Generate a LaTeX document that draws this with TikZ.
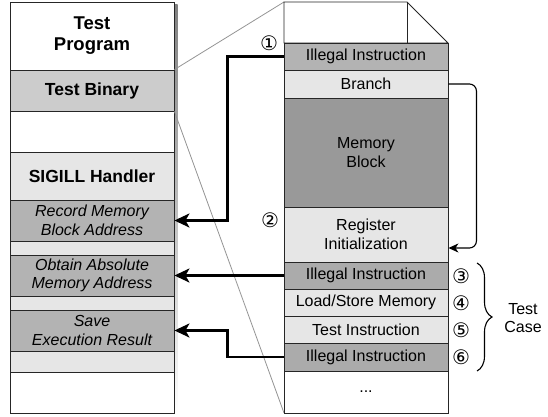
\documentclass[tikz,border=0pt]{standalone}
\usepackage{fontspec}
\setmainfont{Liberation Sans}
\newfontfamily\circfont{DejaVu Sans}
\usetikzlibrary{arrows.meta,decorations.pathreplacing,calc}

\definecolor{edge}{HTML}{262626}
\definecolor{fillA}{HTML}{CCCCCC}
\definecolor{fillB}{HTML}{B3B3B3}
\definecolor{fillC}{HTML}{E6E6E6}
\definecolor{fillD}{HTML}{999999}
\definecolor{fillE}{HTML}{ABABAB}
\definecolor{shade}{HTML}{CFCFCF}

\tikzset{
  cell/.style={draw=edge, line width=0.9pt, minimum width=164pt, inner sep=0pt,
    align=center, text=black, font=\fontsize{16}{18.5}\selectfont},
  boldcell/.style={cell, font=\fontsize{17.5}{21}\selectfont\bfseries},
  itcell/.style={cell, font=\fontsize{16}{18.5}\selectfont\itshape},
  zoomline/.style={draw=black!42, line width=0.8pt},
  bigarrow/.style={line width=2.4pt, black,
    -{Stealth[length=15pt, width=14pt, inset=4pt]}},
  looparrow/.style={line width=1.1pt, black, rounded corners=7pt,
    -{Stealth[length=10pt, width=9pt, inset=3pt]}},
  circ/.style={inner sep=0pt, font=\circfont\fontsize{20}{20}\selectfont},
  tcbrace/.style={decorate, line width=1.1pt,
    decoration={brace, amplitude=15pt, aspect=0.5}},
}

\begin{document}
\begin{tikzpicture}[x=1pt, y=-1pt]
\useasboundingbox (0,0) rectangle (548,417);

% soft shadow behind the program column
\fill[shade] (13,5) rectangle (177.5,416);

% program column
\node[boldcell, minimum height=68pt, fill=white, font=\fontsize{18.5}{21}\selectfont\bfseries] (prog) at (92,36) {Test\\Program};
\node[boldcell, minimum height=41pt, fill=fillA] (bin) at (92,90.5) {Test Binary};
\node[cell, minimum height=41pt, fill=white] (blank1) at (92,131.5) {};
\node[boldcell, minimum height=48pt, fill=fillC] (sig) at (92,176) {SIGILL Handler};
\node[itcell, minimum height=41pt, fill=fillB] (rec) at (92,220.5) {Record Memory\\Block Address};
\node[cell, minimum height=14pt, fill=fillC] (g1) at (92,248) {};
\node[itcell, minimum height=41pt, fill=fillB] (obt) at (92,275.5) {Obtain Absolute\\Memory Address};
\node[cell, minimum height=14pt, fill=fillC] (g2) at (92,303) {};
\node[itcell, minimum height=41pt, fill=fillB] (save) at (92,330.5) {Save\\Execution Result};
\node[cell, minimum height=21pt, fill=fillC] (g3) at (92,361.5) {};
\node[cell, minimum height=41pt, fill=white] (blank2) at (92,392.5) {};

% page corners of the binary view
\coordinate (ptl) at (284,2);
\coordinate (pfold) at (407,2);
\coordinate (pfr) at (448,43);
\coordinate (pfl) at (284,43);

% zoom guides from the binary to its expanded view
\draw[zoomline] (bin.north east) -- (ptl);
\draw[zoomline] (bin.south east) -- (284,413);

% expanded binary (dog-eared page)
\filldraw[fill=white, draw=edge, line width=0.9pt] (pfl) -- (ptl) -- (pfold) -- (pfr) -- cycle;
\draw[edge, line width=0.9pt] (pfold) -- (407,43) -- (pfr);
\node[cell, minimum height=27pt, fill=fillB] (ill1) at (366,56.5) {Illegal Instruction};
\node[cell, minimum height=28pt, fill=fillC] (br) at (366,84) {Branch};
\node[cell, minimum height=109pt, fill=fillD] (mem) at (366,152.5) {Memory\\Block};
\node[cell, minimum height=55pt, fill=fillC] (reg) at (366,234.5) {Register\\Initialization};
\node[cell, minimum height=27pt, fill=fillE] (ill2) at (366,275.5) {Illegal Instruction};
\node[cell, minimum height=27pt, fill=fillC] (ls) at (366,302.5) {Load/Store Memory};
\node[cell, minimum height=27pt, fill=fillC] (ti) at (366,329.5) {Test Instruction};
\node[cell, minimum height=28pt, fill=fillE] (ill3) at (366,357) {Illegal Instruction};
\node[cell, minimum height=42pt, fill=white] (dots) at (366,392) {...};

% handler transfers
\draw[bigarrow] (ill1.west) -- ++(-56,0) |- (rec.east);
\draw[bigarrow] (ill2.west) -- (obt.east);
\draw[bigarrow] (ill3.west) -- ++(-56,0) |- (save.east);

% branch over the memory block
\draw[looparrow] (br.east) -- ++(28,0) |- ([yshift=-13.5pt]reg.east);

% step markers
\node[circ] (c1) at (269,43) {①};
\node[circ] (c2) at (270,220) {②};
\node[circ] (c3) at (461,276) {③};
\node[circ] (c4) at (461,303) {④};
\node[circ] (c5) at (461,330) {⑤};
\node[circ] (c6) at (461,357) {⑥};

% test case grouping
\coordinate (bt) at (477,263);
\coordinate (bb) at (477,371);
\draw[tcbrace] (bt) -- (bb);
\node[align=center, font=\fontsize{16}{18}\selectfont] (tc) at (523,318) {Test\\Case};
\end{tikzpicture}
\end{document}
